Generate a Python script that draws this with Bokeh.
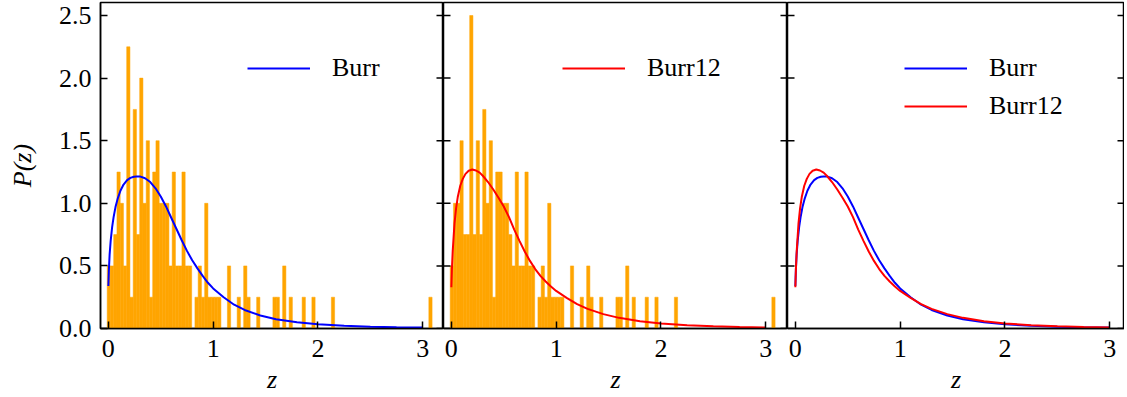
from bokeh.plotting import figure
from bokeh.layouts import row
from bokeh.models import Range1d, FixedTicker, Legend, LegendItem, ColumnDataSource
from bokeh.embed import file_html
from bokeh.resources import INLINE

# ---------------- data ----------------
hist_start = -0.011
bin_width = 0.031

hist_burr = [0.5, 0.5, 0.75, 1.25, 1.0, 0.5, 2.25, 0.25, 1.75, 0.75,
             2.0, 1.0, 1.5, 0.25, 1.25, 1.5, 1.0, 1.0, 1.0, 0.5,
             1.25, 0.5, 0.5, 1.25, 0.5, 0.5, 0.0, 0.25, 0.5, 0.25,
             1.0, 0.25, 0.25, 0.25, 0.25, 0.0, 0.0, 0.5, 0.0, 0.0,
             0.25, 0.0, 0.5, 0.25, 0.0, 0.0, 0.25, 0.0, 0.0, 0.0,
             0.0, 0.25, 0.25, 0.0, 0.5, 0.0, 0.25, 0.0, 0.0, 0.0,
             0.25, 0.0, 0.0, 0.25, 0.0, 0.0, 0.0, 0.0, 0.0, 0.25,
             0.0, 0.0, 0.0, 0.0, 0.0, 0.0, 0.0, 0.0, 0.0, 0.0,
             0.0, 0.0, 0.0, 0.0, 0.0, 0.0, 0.0, 0.0, 0.0, 0.0,
             0.0, 0.0, 0.0, 0.0, 0.0, 0.0, 0.0, 0.0, 0.0, 0.25]

hist_burr12 = [0.5, 1.0, 1.0, 1.5, 0.75, 0.75, 2.5, 0.75, 1.5, 0.75,
               1.75, 1.0, 1.5, 0.25, 1.25, 1.25, 1.0, 1.0, 0.75, 0.5,
               1.25, 0.5, 0.5, 1.25, 0.5, 0.5, 0.0, 0.25, 0.5, 0.25,
               1.0, 0.25, 0.25, 0.25, 0.25, 0.0, 0.0, 0.5, 0.0, 0.0,
               0.25, 0.0, 0.5, 0.25, 0.0, 0.0, 0.25, 0.0, 0.0, 0.0,
               0.0, 0.25, 0.25, 0.0, 0.5, 0.0, 0.25, 0.0, 0.0, 0.0,
               0.25, 0.0, 0.0, 0.25, 0.0, 0.0, 0.0, 0.0, 0.0, 0.25,
               0.0, 0.0, 0.0, 0.0, 0.0, 0.0, 0.0, 0.0, 0.0, 0.0,
               0.0, 0.0, 0.0, 0.0, 0.0, 0.0, 0.0, 0.0, 0.0, 0.0,
               0.0, 0.0, 0.0, 0.0, 0.0, 0.0, 0.0, 0.0, 0.0, 0.25]

burr_z = [0.0, 0.005, 0.012, 0.022, 0.036, 0.05, 0.068, 0.09, 0.115, 0.145,
          0.179, 0.21, 0.243, 0.27, 0.30, 0.35, 0.40, 0.45, 0.50, 0.55,
          0.60, 0.65, 0.70, 0.75, 0.80, 0.85, 0.90, 0.95, 1.0, 1.1,
          1.2, 1.3, 1.45, 1.6, 1.8, 2.0, 2.25, 2.5, 2.75, 3.0]
burr_p = [0.34, 0.47, 0.59, 0.70, 0.81, 0.89, 0.97, 1.04, 1.10, 1.15,
          1.185, 1.203, 1.212, 1.215, 1.215, 1.20, 1.17, 1.12, 1.055, 0.975,
          0.885, 0.795, 0.705, 0.62, 0.545, 0.48, 0.42, 0.365, 0.32, 0.25,
          0.19, 0.148, 0.104, 0.074, 0.05, 0.033, 0.021, 0.014, 0.010, 0.007]

burr12_z = [0.0, 0.005, 0.013, 0.03, 0.045, 0.061, 0.085, 0.109, 0.135, 0.165,
            0.2, 0.235, 0.27, 0.30, 0.35, 0.40, 0.45, 0.50, 0.55, 0.60,
            0.65, 0.70, 0.75, 0.80, 0.85, 0.90, 0.95, 1.0, 1.1, 1.2,
            1.3, 1.45, 1.6, 1.8, 2.0, 2.25, 2.5, 2.75, 3.0]
burr12_p = [0.33, 0.47, 0.62, 0.84, 0.96, 1.05, 1.14, 1.195, 1.235, 1.26,
            1.27, 1.262, 1.245, 1.22, 1.17, 1.11, 1.045, 0.975, 0.89, 0.79,
            0.70, 0.615, 0.54, 0.475, 0.42, 0.375, 0.335, 0.30, 0.245, 0.195,
            0.157, 0.115, 0.085, 0.058, 0.04, 0.026, 0.017, 0.012, 0.008]

x_ticks = [0, 1, 2, 3]
x_tick_labels = ["0", "1", "2", "3"]
y_ticks = [0.0, 0.5, 1.0, 1.5, 2.0, 2.5]
y_tick_labels = ["0.0", "0.5", "1.0", "1.5", "2.0", "2.5"]

# ---------------- styling ----------------
FONT = "Liberation Serif"
FS = "26px"
FS_LABEL = "26px"
BLUE = "#0000FF"
RED = "#FF0000"
ORANGE = "#FFA500"
PX_PER_UNIT = 104.8
X_START = -0.075
FRAME_H = 326
Y_END = 2.604
TICK_LEN = 7


def style_axis(ax, ticks, labels):
    ax.ticker = FixedTicker(ticks=ticks)
    ax.major_label_overrides = {t: l for t, l in zip(ticks, labels)}
    ax.major_tick_in = TICK_LEN
    ax.major_tick_out = 0
    ax.minor_tick_in = 0
    ax.minor_tick_out = 0
    ax.major_tick_line_width = 1.5
    ax.major_tick_line_color = "black"
    ax.axis_line_width = 1.5
    ax.axis_line_color = "black"
    ax.major_label_text_font = FONT
    ax.major_label_text_color = "black"
    ax.major_label_text_font_size = FS
    ax.axis_label_text_font = FONT
    ax.axis_label_text_font_size = FS_LABEL
    ax.axis_label_text_font_style = "italic"
    ax.axis_label_text_color = "black"


def inner_ticks(p, x_end, left):
    # inward tick marks on the frame edges that carry no labels
    n = len(y_ticks)
    xs = [x_end] * n
    ys = list(y_ticks)
    if left:
        xs = xs + [X_START] * n
        ys = ys + list(y_ticks)
    p.scatter(xs, ys, marker="dash", size=2 * TICK_LEN, line_color="black",
              line_width=1.5)


def make_panel(frame_w, left_border, ylabels):
    x_end = X_START + frame_w / PX_PER_UNIT
    p = figure(frame_width=frame_w, frame_height=FRAME_H,
               x_range=Range1d(X_START, x_end), y_range=Range1d(0, Y_END),
               output_backend="svg", toolbar_location=None,
               y_axis_location="left" if ylabels else None,
               min_border_left=left_border, min_border_right=0,
               min_border_top=2, min_border_bottom=69,
               background_fill_color="white", border_fill_color="white")
    p.xgrid.visible = False
    p.ygrid.visible = False
    p.outline_line_color = "black"
    p.outline_line_width = 1.5

    style_axis(p.xaxis[0], x_ticks, x_tick_labels)
    p.xaxis[0].major_label_standoff = 11
    p.xaxis[0].axis_label = "z"
    p.xaxis[0].axis_label_standoff = 5

    if ylabels:
        style_axis(p.yaxis[0], y_ticks, y_tick_labels)
        p.yaxis[0].major_label_standoff = 9
        p.yaxis[0].axis_label = "P(z)"
        p.yaxis[0].axis_label_standoff = 19
    return p, x_end


def add_hist(p, heights):
    lefts = [hist_start + i * bin_width for i in range(len(heights))]
    rights = [l + bin_width for l in lefts]
    src = ColumnDataSource(dict(left=lefts, right=rights, top=heights,
                                bottom=[0.0] * len(heights)))
    p.quad(left="left", right="right", top="top", bottom="bottom", source=src,
           fill_color=ORANGE, line_color=ORANGE, line_width=0.5)


def add_legend(p, items, loc, spacing=8):
    leg = Legend(items=[LegendItem(label=lab, renderers=[r]) for lab, r in items],
                 location=loc, padding=0, margin=0, spacing=spacing,
                 glyph_width=63, glyph_height=30, label_height=30,
                 label_standoff=22, border_line_color=None,
                 background_fill_alpha=0,
                 label_text_font=FONT, label_text_font_size=FS,
                 label_text_color="black")
    p.add_layout(leg)


p1, e1 = make_panel(343, 100, True)
add_hist(p1, hist_burr)
r1 = p1.line(burr_z, burr_p, line_color=BLUE, line_width=2)
inner_ticks(p1, e1, False)
add_legend(p1, [("Burr", r1)], (147, 245))

p2, e2 = make_panel(344, 0, False)
add_hist(p2, hist_burr12)
r2 = p2.line(burr12_z, burr12_p, line_color=RED, line_width=2)
inner_ticks(p2, e2, True)
add_legend(p2, [("Burr12", r2)], (119, 245))

p3, e3 = make_panel(337, 0, False)
r3a = p3.line(burr_z, burr_p, line_color=BLUE, line_width=2)
r3b = p3.line(burr12_z, burr12_p, line_color=RED, line_width=2)
inner_ticks(p3, e3, True)
add_legend(p3, [("Burr", r3a), ("Burr12", r3b)], (117, 207))

layout = row(p1, p2, p3, spacing=0)
open("out.html", "w").write(file_html(layout, INLINE))
